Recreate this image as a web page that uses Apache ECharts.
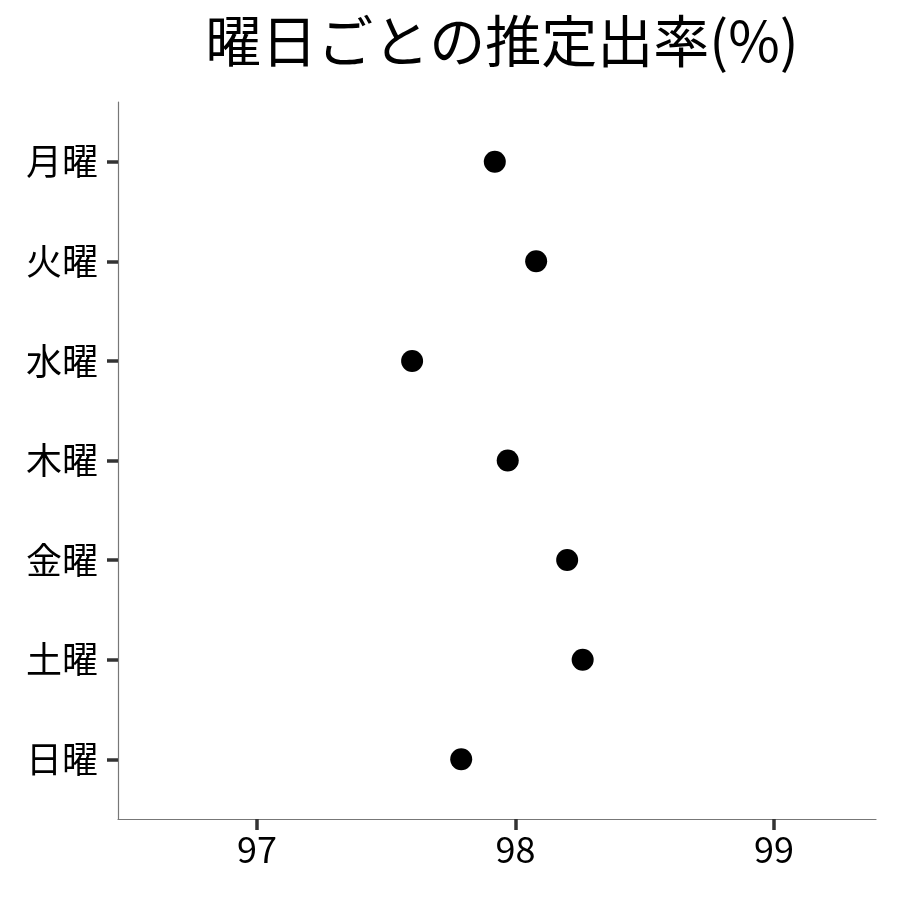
<!DOCTYPE html>
<html>
<head>
<meta charset="utf-8">
<script src="https://cdn.jsdelivr.net/npm/echarts@6/dist/echarts.min.js"></script>
<style>
  html, body { margin: 0; padding: 0; background: #fff; }
  #chart { width: 900px; height: 900px; }
</style>
</head>
<body>
<div id="chart"></div>
<script>
var days = ["月曜", "火曜", "水曜", "木曜", "金曜", "土曜", "日曜"];
var rates = [97.92, 98.08, 97.6, 97.97, 98.2, 98.26, 97.79];
var xTicks = [97, 98, 99];

var font = "'Noto Sans CJK JP', 'Noto Sans', sans-serif";
var ec = echarts.init(document.getElementById("chart"));

// y is a plain value axis over the day index so the 0.6 padding works like ggplot
var points = rates.map(function (v, i) {
  return [v, i];
});

ec.setOption({
  animation: false,
  title: {
    text: "曜日ごとの推定出率(%)",
    left: 497,
    top: 8,
    textAlign: "center",
    textStyle: {
      fontFamily: font,
      fontSize: 56,
      fontWeight: "normal",
      color: "#000",
    },
  },
  grid: {
    left: 118,
    right: 24,
    top: 102,
    bottom: 81,
  },
  xAxis: {
    type: "value",
    min: 96.462,
    max: 99.395,
    splitLine: { show: false },
    axisLine: { show: true, onZero: false, lineStyle: { color: "#777", width: 1.2 } },
    axisTick: {
      show: true,
      customValues: xTicks,
      length: 11,
      lineStyle: { color: "#333", width: 3.5 },
    },
    axisLabel: {
      customValues: xTicks,
      margin: 12,
      color: "#000",
      fontFamily: font,
      fontSize: 36,
    },
  },
  yAxis: {
    type: "value",
    inverse: true,
    min: -0.6,
    max: 6.6,
    splitLine: { show: false },
    axisLine: { show: true, onZero: false, lineStyle: { color: "#777", width: 1.2 } },
    axisTick: {
      show: true,
      customValues: [0, 1, 2, 3, 4, 5, 6],
      length: 11,
      lineStyle: { color: "#333", width: 3.5 },
    },
    axisLabel: {
      customValues: [0, 1, 2, 3, 4, 5, 6],
      margin: 20,
      color: "#000",
      fontFamily: font,
      fontSize: 36,
      formatter: function (v) {
        return days[Math.round(v)];
      },
    },
  },
  series: [
    {
      type: "scatter",
      data: points,
      symbol: "circle",
      symbolSize: 22,
      itemStyle: { color: "#000", opacity: 1 },
    },
  ],
});
</script>
</body>
</html>
